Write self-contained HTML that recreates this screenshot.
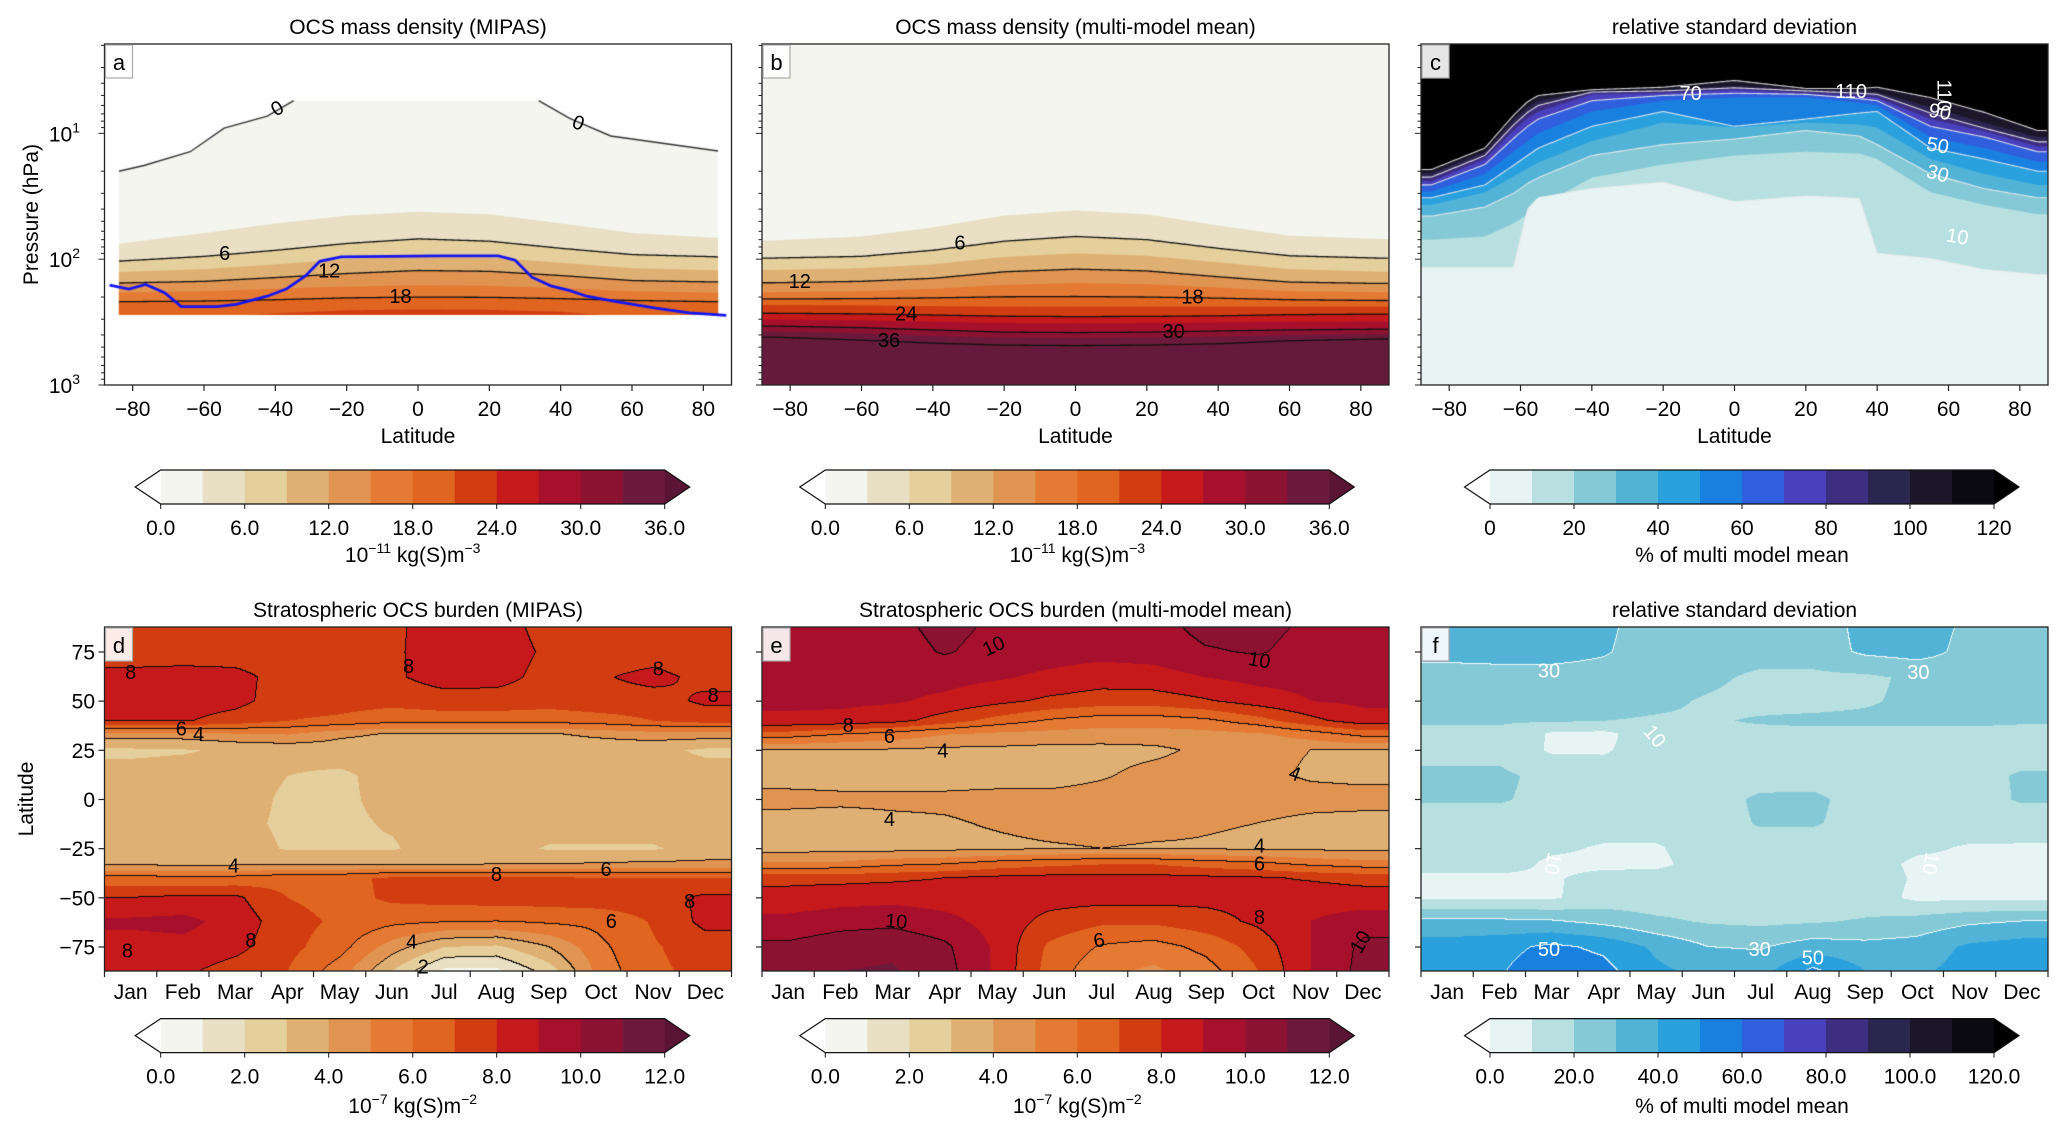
<!DOCTYPE html>
<html><head><meta charset="utf-8">
<style>
body{margin:0;background:#fff;width:2067px;height:1134px;overflow:hidden;position:relative;font-family:"Liberation Sans",sans-serif}
canvas{position:absolute}
svg{position:absolute;left:0;top:0}
</style></head>
<body>
<div id="root" style="position:absolute;left:0;top:0;width:2067px;height:1134px"></div>
<script>
// ---------- data: panel a (MIPAS mass density), contour pressures (hPa) per latitude ----------
const LAT_A=[-85,-60,-40,-20,0,20,40,60,85];
const A_L3=[76,62,52,45,42,44,52,62,68];
const A_L6=[104,95,85,75,69,72,82,92,96];
const A_L9=[127,120,110,100,94,97,107,118,123];
const A_L12=[155,150,140,130,123,125,135,148,152];
const A_L15=[185,180,172,165,161,163,170,180,185];
const A_L18=[218,215,210,203,200,201,206,213,218];
const A_L21=[300,295,270,255,251,253,262,290,300];
const A_TOP_LAT=[-84,-77,-64,-54.5,-42.4,-35,33.7,42.4,53.9,84];
const A_TOP_P=[20,18,14,9.1,7.3,5.5,5.5,7.6,10.5,13.8];
const A_BOTTOM_P=277;
const TP_LAT=[-86.6,-81.2,-76.5,-71.2,-66.5,-56.5,-51.1,-42.4,-37.1,-31.7,-27.7,-21.7,-8.3,5,22.4,27.1,31.8,37.1,42.5,47.1,55.9,66.5,75.9,86.3];
const TP_P=[161,173,159,185,238,238,229,197,173,136,104,96,95,94,94,102,139,163,178,197,218,245,267,280];
// ---------- panel b (multi-model mean) ----------
const LAT_B=[-85,-60,-40,-20,0,20,40,60,85];
const B_L3=[71,66,56,45,41,44,54,65,69];
const B_L6=[98,95,85,72,66,70,82,94,98];
const B_L9=[122,118,110,96,90,94,106,120,126];
const B_L12=[154,150,142,126,120,124,138,152,156];
const B_L15=[183,180,172,160,155,158,168,180,183];
const B_L18=[207,206,203,199,198,200,204,210,213];
const B_L21=[231,233,236,238,239,239,239,239,239];
const B_L24=[269,272,278,284,286,285,282,276,273];
const B_L27=[302,306,314,322,324,322,318,315,313];
const B_L30=[340,350,365,380,383,380,372,365,360];
const B_L33=[376,390,408,420,424,420,412,402,395];
const B_L36=[416,440,465,482,486,482,470,445,431];
// ---------- panel c (relative std dev, %) ----------
const LAT_C=[-85,-70,-62,-58,-55,-40,-20,0,20,35,40,55,70,85];
const C_10=[117,117,117,40,32.5,27.5,24.5,35,31.5,33,90,99,121,133];
const C_20=[70,66,52,44,38.5,22.5,17.7,15,14,14.5,16,29.4,37,44];
const C_30=[45.5,38.5,30,25,22.5,15,12.3,11.1,9.5,10.5,12.3,21,27.5,32.5];
const C_40=[37,29.4,22,19,17,11.5,8.2,9,8.2,8.5,9,16,21,25.7];
const C_50=[32.5,25.7,18,15,13.1,8.8,6.7,8.8,7.7,6.9,6.7,13.1,16,20];
const C_60=[29,21,14,11.5,10,6.7,5.5,5.2,5.2,5.7,6,10.7,13.1,16.8];
const C_70=[25.7,17.7,11,8.8,7.7,5.5,5,4.8,4.9,5.3,5.5,8.8,10.7,14];
const C_80=[24,16,9.5,7.6,6.7,4.9,4.8,4.5,4.8,5.1,5.2,7.7,9.6,12.7];
const C_90=[22.3,15,8.6,6.8,6,4.7,4.6,4.35,4.6,4.8,4.9,6.9,9.1,11.7];
const C_100=[20.8,14,7.8,6.2,5.5,4.6,4.5,4.2,4.5,4.6,4.7,6.2,8.2,10.7];
const C_110=[19.4,13.1,7.2,5.6,5,4.5,4.3,3.8,4.4,4.4,4.3,5.2,6.8,9.5];
// ---------- bottom panels: month x latitude grids ----------
const MONTHS=['Jan','Feb','Mar','Apr','May','Jun','Jul','Aug','Sep','Oct','Nov','Dec'];
const GRID_LAT=[87,75,62,50,40,33,25,12,0,-12,-25,-33,-40,-50,-62,-75,-87];
const D_GRID=[
[7.5,7.5,7.2,7.4,7.5,7.8,8.5,8.5,7.6,7.5,7.4,7.3],
[7.5,7.5,7.5,7.4,7.5,7.8,8.6,8.6,7.8,7.5,7.5,7.4],
[8.3,8.4,8.3,7.6,7.5,7.8,8.5,8.4,7.6,7.9,8.3,7.7],
[8.4,8.5,8.3,7.5,7.4,7.3,7.5,7.5,7.4,7.6,7.6,8.2],
[8.1,8.1,7.6,7.0,6.8,6.4,6.5,6.5,6.4,6.6,7.0,7.4],
[4.5,4.5,4.8,5.0,4.2,3.9,3.9,3.9,3.9,4.2,4.5,4.5],
[2.8,2.9,3.2,3.3,3.5,3.5,3.5,3.5,3.5,3.4,3.3,2.8],
[3.4,3.5,3.5,3.0,2.8,3.4,3.5,3.5,3.5,3.5,3.5,3.5],
[3.5,3.5,3.5,2.8,2.8,3.3,3.5,3.5,3.5,3.5,3.5,3.5],
[3.5,3.5,3.3,2.8,2.8,3.1,3.5,3.5,3.5,3.5,3.5,3.5],
[3.5,3.5,3.5,2.9,2.9,2.9,3.5,3.4,2.9,2.9,2.9,3.4],
[3.8,3.8,3.8,3.9,3.9,3.9,3.9,4.0,4.0,4.1,4.2,4.2],
[6.4,6.2,6.3,6.6,6.7,7.2,7.2,7.2,7.2,7.1,7.0,7.0],
[8.0,8.2,8.2,7.0,6.6,7.2,7.4,7.5,7.5,7.6,7.6,8.2],
[9.2,9.3,8.6,7.4,6.8,6.3,6.1,6.0,6.2,6.3,7.1,8.3],
[8.6,8.7,8.3,7.3,6.4,4.5,3.0,2.8,4.0,5.8,6.9,7.5],
[8.3,8.2,7.6,7.0,5.5,3.0,0.8,0.8,2.5,5.5,6.8,7.3]];
const E_GRID=[
[9.5,9.5,9.7,10.3,9.8,9.5,9.5,9.6,10.3,10.3,9.8,9.5],
[9.4,9.4,9.5,10.1,9.6,9.4,9.3,9.4,9.9,10.1,9.6,9.4],
[9.3,9.3,9.3,9.3,9.1,8.8,8.5,8.6,9.0,9.3,9.3,9.3],
[9.2,9.2,9.1,8.8,8.3,7.8,7.5,7.5,7.9,8.5,9.0,9.2],
[8.8,8.7,8.4,7.5,6.6,5.9,5.5,5.5,5.8,6.6,7.7,8.6],
[6.5,6.0,5.6,5.0,4.7,4.6,4.5,4.5,4.6,4.8,5.5,6.3],
[4.0,4.0,3.9,3.8,3.8,3.7,3.7,3.8,4.2,4.2,4.0,4.0],
[3.6,3.6,3.6,3.6,3.6,3.6,3.9,4.3,4.4,4.2,3.9,3.8],
[4.3,4.2,4.2,4.2,4.3,4.3,4.4,4.4,4.4,4.4,4.3,4.3],
[3.6,3.6,3.8,3.9,4.1,4.3,4.4,4.3,4.1,4.0,3.8,3.7],
[3.6,3.6,3.6,3.7,3.8,3.9,4.0,3.9,3.9,3.8,3.8,3.7],
[5.2,5.3,5.8,6.0,6.5,6.8,7.0,7.0,6.6,6.3,5.8,5.5],
[7.7,7.7,7.8,8.0,8.2,8.3,8.3,8.3,8.2,8.1,7.9,7.7],
[8.4,8.6,8.7,8.6,8.5,8.4,8.4,8.4,8.3,8.3,8.5,8.4],
[9.3,9.6,9.7,9.3,8.6,7.7,7.2,7.2,7.6,8.2,9.0,9.6],
[10.2,10.6,10.8,10.2,8.8,6.8,5.9,5.6,6.3,7.4,9.0,10.2],
[10.3,11.0,11.1,10.4,8.8,6.6,5.3,4.8,5.6,7.0,9.0,10.3]];
const F_GRID=[
[34,35,35,32,25,24,24,24,33,35,28,24],
[33,34,34,31,25,24,24,24,32,34,27,24],
[26,26,26,26,25,22,18,18,18,22,25,25],
[24,24,24,24,22,19,17,17,19,22,24,24],
[21,21,21,20,19,19,21,22,22,22,22,21],
[18,18,9,8,15,17,17,17,17,17,17,17],
[17,17,9,9,15,16,16,16,16,16,16,16],
[22,22,17,15,15,15,15,16,16,16,17,21],
[21,21,17,15,15,15,22,22,16,16,16,21],
[15,15,15,15,15,15,21,21,16,16,16,15],
[15,15,12,9,9,15,15,15,15,12,9,9],
[15,15,8,8,8,14,15,15,15,8,8,8],
[8,8,9,13,14,15,15,15,15,9,8,8],
[9,9,9,14,14,15,15,15,15,8,8,8],
[32,32,31,27,22,19,18,19,21,24,28,30],
[45,47,52,48,38,30,29,35,33,34,42,45],
[47,49,56,53,42,37,36,52,40,38,44,47]];
const ORANGE=['#f5f5ef','#e8dfc5','#e5cf9c','#dfb073','#e09452','#e47a34','#e06520','#d13d10','#c5191b','#a6102d','#8c1232','#6b1a3c'];
const ORANGE_OVER='#5a1535';
const BLUE=['#e8f3f3','#b9e0e0','#86c9d6','#52b3d6','#2aa0dd','#1a80e0','#2f5fdc','#4840bd','#3d2e80','#2b2650','#1b1729','#0a0a10'];
const BLUE_OVER='#000000';

const NS='http://www.w3.org/2000/svg';
const root=document.getElementById('root');
const AX={
 a:{x:104.5,y:44,w:627,h:341},b:{x:762,y:44,w:627,h:341},c:{x:1421,y:44,w:627,h:341},
 d:{x:104.5,y:627,w:627,h:344},e:{x:762,y:627,w:627,h:344},f:{x:1421,y:627,w:627,h:344}};
const LATMIN=-87.9,LATMAX=87.9,LPTOP=0.29,LPBOT=3;
function sxLat(ax,lat){return (lat-LATMIN)/(LATMAX-LATMIN)*ax.w;}
function syP(ax,p){return (Math.log10(p)-LPTOP)/(LPBOT-LPTOP)*ax.h;}
function sxMon(ax,m){return m/12*ax.w;}
function syLat(ax,lat){return (87.7-lat)/174.9*ax.h;}
function interp(xs,ys,x){
 if(x<=xs[0])return ys[0]; if(x>=xs[xs.length-1])return ys[ys.length-1];
 for(let i=0;i<xs.length-1;i++){if(x>=xs[i]&&x<=xs[i+1]){const t=(x-xs[i])/(xs[i+1]-xs[i]);return Math.pow(10,Math.log10(ys[i])*(1-t)+Math.log10(ys[i+1])*t);}}
}
function makeCanvas(ax,name){
 const c=document.createElement('canvas');c.width=ax.w;c.height=ax.h;
 c.style.left=ax.x+'px';c.style.top=ax.y+'px';
 
 
 root.appendChild(c);return c.getContext('2d');
}
function fillBelow(ctx,ax,lats,ps,color){
 ctx.beginPath();
 for(let px=0;px<=ax.w;px+=1){
  const lat=LATMIN+px/ax.w*(LATMAX-LATMIN);
  const y=syP(ax,interp(lats,ps,lat));
  if(px===0)ctx.moveTo(px,y);else ctx.lineTo(px,y);
 }
 ctx.lineTo(ax.w,ax.h+2);ctx.lineTo(0,ax.h+2);ctx.closePath();
 ctx.fillStyle=color;ctx.fill();
}
function strokeLine(ctx,ax,lats,ps,color,lw,l0,l1){
 ctx.beginPath();let first=true;
 const a=l0===undefined?lats[0]:l0,b=l1===undefined?lats[lats.length-1]:l1;
 for(let lat=a;lat<=b+0.01;lat+=0.5){
  const x=sxLat(ax,lat),y=syP(ax,interp(lats,ps,lat));
  if(first){ctx.moveTo(x,y);first=false;}else ctx.lineTo(x,y);
 }
 ctx.strokeStyle=color;ctx.lineWidth=lw;ctx.stroke();
}
// ----- panel a -----
(function(){
 const ax=AX.a,ctx=makeCanvas(ax,'panel-a-contour-fill');
 ctx.save();ctx.beginPath();
 for(let i=0;i<A_TOP_LAT.length;i++){const x=sxLat(ax,A_TOP_LAT[i]),y=syP(ax,A_TOP_P[i]);if(i===0)ctx.moveTo(x,y);else ctx.lineTo(x,y);}
 ctx.lineTo(sxLat(ax,84),syP(ax,A_BOTTOM_P));ctx.lineTo(sxLat(ax,-84),syP(ax,A_BOTTOM_P));ctx.closePath();ctx.clip();
 ctx.fillStyle=ORANGE[0];ctx.fillRect(0,0,ax.w,ax.h);
 const L=[A_L3,A_L6,A_L9,A_L12,A_L15,A_L18,A_L21];
 L.forEach((ps,k)=>fillBelow(ctx,ax,LAT_A,ps,ORANGE[k+1]));
 [A_L6,A_L12,A_L18].forEach(ps=>strokeLine(ctx,ax,LAT_A,ps,'#111',1.3,-84,84));
 ctx.restore();
 ctx.beginPath();
 for(let i=0;i<6;i++){const x=sxLat(ax,A_TOP_LAT[i]),y=syP(ax,A_TOP_P[i]);if(i===0)ctx.moveTo(x,y);else ctx.lineTo(x,y);}
 ctx.moveTo(sxLat(ax,A_TOP_LAT[6]),syP(ax,A_TOP_P[6]));
 for(let i=7;i<10;i++)ctx.lineTo(sxLat(ax,A_TOP_LAT[i]),syP(ax,A_TOP_P[i]));
 ctx.strokeStyle='#333';ctx.lineWidth=1.4;ctx.stroke();
 ctx.beginPath();
 for(let i=0;i<TP_LAT.length;i++){const x=sxLat(ax,TP_LAT[i]),y=syP(ax,TP_P[i]);if(i===0)ctx.moveTo(x,y);else ctx.lineTo(x,y);}
 ctx.strokeStyle='#1515f0';ctx.lineWidth=2.8;ctx.stroke();
})();
// ----- panel b -----
(function(){
 const ax=AX.b,ctx=makeCanvas(ax,'panel-b-contour-fill');
 ctx.fillStyle=ORANGE[0];ctx.fillRect(0,0,ax.w,ax.h);
 const L=[B_L3,B_L6,B_L9,B_L12,B_L15,B_L18,B_L21,B_L24,B_L27,B_L30,B_L33,B_L36];
 L.forEach((ps,k)=>fillBelow(ctx,ax,LAT_B,ps,k+1<12?ORANGE[k+1]:'#661a3b'));
 [B_L6,B_L12,B_L18,B_L24,B_L30,B_L36].forEach(ps=>strokeLine(ctx,ax,LAT_B,ps,'#111',1.3,LATMIN,LATMAX));
})();
// ----- panel c -----
(function(){
 const ax=AX.c,ctx=makeCanvas(ax,'panel-c-contour-fill');
 ctx.fillStyle=BLUE_OVER;ctx.fillRect(0,0,ax.w,ax.h);
 const L=[C_110,C_100,C_90,C_80,C_70,C_60,C_50,C_40,C_30,C_20,C_10];
 L.forEach((ps,k)=>fillBelow(ctx,ax,LAT_C,ps,BLUE[10-k]));
 [C_110,C_90,C_70,C_50,C_30,C_10].forEach(ps=>strokeLine(ctx,ax,LAT_C,ps,'rgba(235,235,235,0.9)',1.1,LATMIN,LATMAX));
})();
// ----- bottom panels -----
function gridVal(G,m,lat){
 let col=Math.max(0,Math.min(11,m-0.5));const i0=Math.floor(col),i1=Math.min(11,i0+1),fx=col-i0;
 let j=0;
 if(lat>=GRID_LAT[0]){j=0;lat=GRID_LAT[0];}
 else if(lat<=GRID_LAT[GRID_LAT.length-1]){j=GRID_LAT.length-2;lat=GRID_LAT[GRID_LAT.length-1];}
 else{for(j=0;j<GRID_LAT.length-1;j++){if(lat<=GRID_LAT[j]&&lat>=GRID_LAT[j+1])break;}}
 const fy=(GRID_LAT[j]-lat)/(GRID_LAT[j]-GRID_LAT[j+1]);
 const v0=G[j][i0]*(1-fx)+G[j][i1]*fx,v1=G[j+1][i0]*(1-fx)+G[j+1][i1]*fx;
 return v0*(1-fy)+v1*fy;
}
function hex(c){return [parseInt(c.substr(1,2),16),parseInt(c.substr(3,2),16),parseInt(c.substr(5,2),16)];}
function drawGrid(ax,name,G,colors,over,step,lineKey,lineRGB){
 const ctx=makeCanvas(ax,name);const W=ax.w,H=ax.h;
 const img=ctx.createImageData(W,H);const vals=new Float32Array(W*H);
 const cols=colors.map(hex),ov=hex(over);
 for(let y=0;y<H;y++){const lat=87.7-(y+0.5)/H*174.9;
  for(let x=0;x<W;x++){vals[y*W+x]=gridVal(G,(x+0.5)/W*12,lat);}}
 for(let y=0;y<H;y++)for(let x=0;x<W;x++){
  const v=vals[y*W+x];let k=Math.floor(v/step);
  let c=k<0?[255,255,255]:(k>=colors.length?ov:cols[k]);
  const kk=lineKey(v);
  if((x<W-1&&lineKey(vals[y*W+x+1])!==kk)||(y<H-1&&lineKey(vals[(y+1)*W+x])!==kk))c=lineRGB;
  const o=(y*W+x)*4;img.data[o]=c[0];img.data[o+1]=c[1];img.data[o+2]=c[2];img.data[o+3]=255;
 }
 ctx.putImageData(img,0,0);
}
drawGrid(AX.d,'panel-d-contour-fill',D_GRID,ORANGE,ORANGE_OVER,1,v=>Math.floor(v/2),[15,10,10]);
drawGrid(AX.e,'panel-e-contour-fill',E_GRID,ORANGE,ORANGE_OVER,1,v=>Math.floor(v/2),[15,10,10]);
drawGrid(AX.f,'panel-f-contour-fill',F_GRID,BLUE,BLUE_OVER,10,v=>Math.floor((v+10)/20),[240,248,248]);

// ---------- SVG overlay ----------
const svg=document.createElementNS(NS,'svg');svg.setAttribute('width',2067);svg.setAttribute('height',1134);
root.appendChild(svg);
function mk(tag,parent,attrs){const e=document.createElementNS(NS,tag);for(const k in attrs)e.setAttribute(k,attrs[k]);parent.appendChild(e);return e;}
function txt(parent,x,y,s,size,anchor,name,fill){
 const t=mk('text',parent,{x:x,y:y,'font-size':size,'text-anchor':anchor||'middle',fill:fill||'#000','font-family':'"Liberation Sans",sans-serif'});
 t.textContent=s;
 
 
 return t;
}
const FS=21;
const TITLES={a:'OCS mass density (MIPAS)',b:'OCS mass density (multi-model mean)',c:'relative standard deviation',d:'Stratospheric OCS burden (MIPAS)',e:'Stratospheric OCS burden (multi-model mean)',f:'relative standard deviation'};
['a','b','c','d','e','f'].forEach(id=>{
 const ax=AX[id];const top=(id<'d');
 const g=mk('g',svg,{});
 
 
 txt(g,ax.x+ax.w/2,ax.y-10,TITLES[id],FS,'middle','panel-'+id+'-title');
 const fr=mk('rect',g,{x:ax.x,y:ax.y,width:ax.w,height:ax.h,fill:'none',stroke:'#222','stroke-width':1.3});
 
 
 const lb=mk('rect',g,{x:ax.x+1,y:ax.y+1,width:27,height:33,fill:'rgba(255,255,255,0.9)',stroke:'#aaa','stroke-width':1.2});
 
 
 txt(g,ax.x+14.5,ax.y+26,id,22,'middle','panel-'+id+'-letter');
 if(top){
  for(let lat=-80;lat<=80;lat+=20){const x=ax.x+sxLat(ax,lat);
   mk('line',g,{x1:x,x2:x,y1:ax.y+ax.h,y2:ax.y+ax.h+6,stroke:'#222','stroke-width':1.2});
   txt(g,x,ax.y+ax.h+31,(lat<0?'\u2212':'')+Math.abs(lat),FS,'middle','x-tick-label');}
  txt(g,ax.x+ax.w/2,443,'Latitude',FS,'middle','x-axis-title');
  for(let e=0;e<3;e++)for(let m=1;m<10;m++){const p=m*Math.pow(10,e);if(p<1.95||p>1000)continue;
   const y=ax.y+syP(ax,p);const maj=(m===1);
   mk('line',g,{x1:ax.x,x2:ax.x-(maj?6:3.5),y1:y,y2:y,stroke:'#222','stroke-width':1});}
  mk('line',g,{x1:ax.x,x2:ax.x-6,y1:ax.y+ax.h,y2:ax.y+ax.h,stroke:'#222','stroke-width':1});
  if(id==='a'){
   [1,2,3].forEach(e=>{const y=ax.y+syP(ax,Math.pow(10,e));
    const t=txt(g,80,y+8,'10',FS,'end','y-tick-label');
    const s=mk('tspan',t,{dy:-9,'font-size':14});s.textContent=String(e);});
   const yl=txt(g,0,0,'Pressure (hPa)',FS,'middle','y-axis-title');
   yl.setAttribute('transform','translate(38,'+(ax.y+ax.h/2)+') rotate(-90)');
  }
 } else {
  for(let k=0;k<=12;k++){const x=ax.x+sxMon(ax,k);
   mk('line',g,{x1:x,x2:x,y1:ax.y+ax.h,y2:ax.y+ax.h+6,stroke:'#222','stroke-width':1.2});}
  MONTHS.forEach((mn,k)=>txt(g,ax.x+sxMon(ax,k+0.5),999,mn,FS,'middle','month-label'));
  for(let lat=-75;lat<=75;lat+=25){const y=ax.y+syLat(ax,lat);
   mk('line',g,{x1:ax.x,x2:ax.x-6,y1:y,y2:y,stroke:'#222','stroke-width':1.2});
   if(id==='d')txt(g,95,y+7.5,(lat<0?'\u2212':'')+Math.abs(lat),FS,'end','y-tick-label');}
  if(id==='d'){const yl=txt(g,0,0,'Latitude',FS,'middle','y-axis-title');
   yl.setAttribute('transform','translate(33,'+(ax.y+ax.h/2)+') rotate(-90)');}
 }
});
// contour labels
function clabTop(id,lat,p,s,fill,rot){const ax=AX[id];const x=ax.x+sxLat(ax,lat),y=ax.y+syP(ax,p);
 const t=txt(svg,x,y+7,s,20,'middle','contour-label',fill);if(rot)t.setAttribute('transform','rotate('+rot+','+x+','+y+')');}
function clabBot(id,m,lat,s,fill,rot){const ax=AX[id];const x=ax.x+sxMon(ax,m),y=ax.y+syLat(ax,lat);
 const t=txt(svg,x,y+7,s,20,'middle','contour-label',fill);if(rot)t.setAttribute('transform','rotate('+rot+','+x+','+y+')');}
clabTop('a',-39.5,6.3,'0','#000',-30);clabTop('a',45,8.2,'0','#000',20);
clabTop('a',-54.2,89.5,'6');clabTop('a',-24.9,123,'12');clabTop('a',-4.9,197,'18');
clabTop('b',-32.4,74,'6');clabTop('b',-77.3,149,'12');clabTop('b',32.8,198,'18');
clabTop('b',-47.5,270,'24');clabTop('b',27.5,371,'30');clabTop('b',-52.3,440,'36');
clabTop('c',-12.3,4.8,'70','#fff');clabTop('c',32.7,4.6,'110','#fff');clabTop('c',58.9,5.0,'110','#fff',90);
clabTop('c',57.6,6.7,'90','#fff',10);clabTop('c',57,12.4,'50','#fff',10);clabTop('c',57,20.7,'30','#fff',15);clabTop('c',62.5,65.6,'10','#fff',10);
[[0.5,64.7,'8'],[5.82,67.8,'8'],[10.6,66.5,'8'],[11.65,53,'8'],[1.47,36.2,'6'],[1.8,33.2,'4'],[2.47,-33.5,'4'],[9.6,-35.3,'6'],[7.5,-38,'8'],[11.2,-51.6,'8'],[9.7,-61.8,'6'],[5.88,-72.3,'4'],[2.8,-71.4,'8'],[0.44,-76.8,'8'],[6.1,-85,'2']].forEach(v=>clabBot('d',v[0],v[1],v[2]));
[[4.43,78.2,'10',-25],[9.52,71,'10',10],[1.65,38,'8'],[2.44,32.3,'6'],[3.46,25,'4'],[10.2,13.3,'4',20],[2.44,-10,'4'],[9.52,-23.3,'4'],[9.52,-32.6,'6'],[2.57,-61.8,'10',5],[9.52,-59.7,'8'],[6.45,-71.4,'6',-10],[11.45,-72.3,'10',-60]].forEach(v=>clabBot('e',v[0],v[1],v[2],'#000',v[3]));
[[2.45,65.6,'30'],[9.52,64.7,'30'],[4.48,32.3,'10',50],[2.53,-32.6,'10',100],[9.76,-32.6,'10',100],[2.45,-75.9,'50'],[6.48,-75.9,'30'],[7.5,-80.4,'50']].forEach(v=>clabBot('f',v[0],v[1],v[2],'#fff',v[3]));
// colorbars
const CB_TOP_LABELS=['0.0','6.0','12.0','18.0','24.0','30.0','36.0'];
const CB_C_LABELS=['0','20','40','60','80','100','120'];
const CB_BOT_LABELS=['0.0','2.0','4.0','6.0','8.0','10.0','12.0'];
const CB_F_LABELS=['0.0','20.0','40.0','60.0','80.0','100.0','120.0'];
function colorbar(name,x0,y0,colors,over,labels,unitParts,uy){
 const g=mk('g',svg,{});
 
 
 const bw=42,H=34;
 colors.forEach((c,i)=>{mk('rect',g,{x:x0+i*bw,y:y0,width:bw+0.5,height:H,fill:c});});
 mk('polygon',g,{points:x0+','+y0+' '+(x0-25.5)+','+(y0+H/2)+' '+x0+','+(y0+H),fill:'#fff'});
 mk('polygon',g,{points:(x0+12*bw)+','+y0+' '+(x0+12*bw+25)+','+(y0+H/2)+' '+(x0+12*bw)+','+(y0+H),fill:over});
 mk('polygon',g,{points:x0+','+y0+' '+(x0+12*bw)+','+y0+' '+(x0+12*bw+25)+','+(y0+H/2)+' '+(x0+12*bw)+','+(y0+H)+' '+x0+','+(y0+H)+' '+(x0-25.5)+','+(y0+H/2),fill:'none',stroke:'#111','stroke-width':1.2});
 labels.forEach((l,i)=>{const x=x0+i*2*bw;mk('line',g,{x1:x,x2:x,y1:y0+H,y2:y0+H+5,stroke:'#111','stroke-width':1});
  txt(g,x,y0+H+31,l,FS,'middle','colorbar-tick-label');});
 const t=txt(g,x0+6*bw,uy,unitParts[0],FS,'middle','colorbar-label');
 if(unitParts.length>1){
  const s1=mk('tspan',t,{dy:-9,'font-size':14});s1.textContent=unitParts[1];
  const s2=mk('tspan',t,{dy:9});s2.textContent=unitParts[2];
  const s3=mk('tspan',t,{dy:-9,'font-size':14});s3.textContent=unitParts[3];
 }
}
colorbar('colorbar-a',160.7,470,ORANGE,ORANGE_OVER,CB_TOP_LABELS,['10','\u221211',' kg(S)m','\u22123'],562);
colorbar('colorbar-b',825.3,470,ORANGE,ORANGE_OVER,CB_TOP_LABELS,['10','\u221211',' kg(S)m','\u22123'],562);
colorbar('colorbar-c',1490,470,BLUE,BLUE_OVER,CB_C_LABELS,['% of multi model mean'],562);
colorbar('colorbar-d',160.7,1018.6,ORANGE,ORANGE_OVER,CB_BOT_LABELS,['10','\u22127',' kg(S)m','\u22122'],1113);
colorbar('colorbar-e',825.3,1018.6,ORANGE,ORANGE_OVER,CB_BOT_LABELS,['10','\u22127',' kg(S)m','\u22122'],1113);
colorbar('colorbar-f',1490,1018.6,BLUE,BLUE_OVER,CB_F_LABELS,['% of multi model mean'],1113);
</script>
</body></html>
